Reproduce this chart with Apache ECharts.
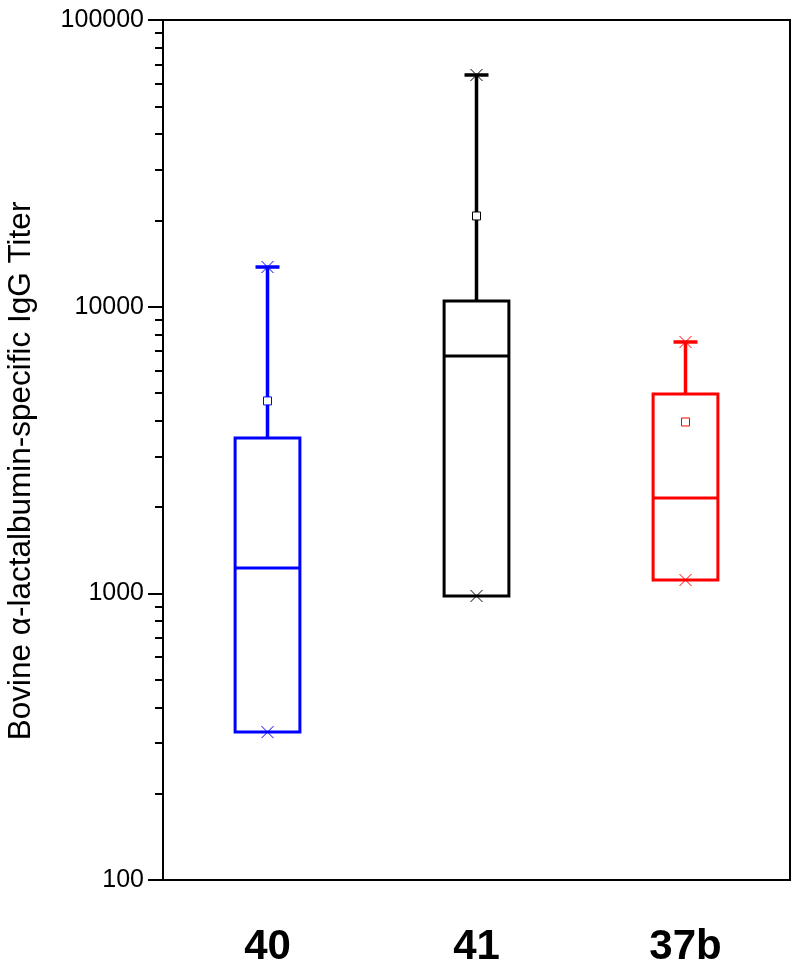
<!DOCTYPE html>
<html>
<head>
<meta charset="utf-8">
<script src="https://cdn.jsdelivr.net/npm/echarts@6/dist/echarts.min.js"></script>
<style>
  html, body { margin: 0; padding: 0; background: #fff; }
  #chart { width: 800px; height: 973px; }
</style>
</head>
<body>
<div id="chart"></div>
<script>
var groups = ['40', '41', '37b'];
var colors = ['#0000ff', '#000000', '#ff0000'];
// min, q1, median, q3, max
var boxes = [
  [328, 328, 1226, 3480, 13750],
  [979, 979, 6730, 10460, 64300],
  [1113, 1113, 2150, 4960, 7530]
];
var means = [4690, 20720, 3960];
var majorTicks = [100, 1000, 10000, 100000];
var minorTicks = [200, 300, 400, 500, 600, 700, 800, 900,
  2000, 3000, 4000, 5000, 6000, 7000, 8000, 9000,
  20000, 30000, 40000, 50000, 60000, 70000, 80000, 90000];

var seriesData = boxes.map(function(b, i) {
  return [i].concat(b).concat([means[i]]);
});

function renderBox(params, api) {
  var i = api.value(0);
  var col = colors[i];
  var xc = api.coord([i, api.value(1)])[0];
  var bw = api.size([1, 0])[0] * 0.31;
  var cw = 24;
  var y = function(k) { return api.coord([i, api.value(k)])[1]; };
  var yMin = y(1), yQ1 = y(2), yMed = y(3), yQ3 = y(4), yMax = y(5), yMean = y(6);
  var line = { stroke: col, lineWidth: 3, fill: 'none' };
  var thin = { stroke: col, lineWidth: 1, fill: 'none' };
  var children = [
    { type: 'line', shape: { x1: xc, y1: yQ3, x2: xc, y2: yMax }, style: { stroke: col, lineWidth: 3.5 } },
    { type: 'line', shape: { x1: xc, y1: yQ1, x2: xc, y2: yMin }, style: line },
    { type: 'line', shape: { x1: xc - cw / 2, y1: yMax, x2: xc + cw / 2, y2: yMax }, style: { stroke: col, lineWidth: 3.5 } },
    { type: 'rect', shape: { x: xc - bw / 2, y: yQ3, width: bw, height: yQ1 - yQ3 }, style: line },
    { type: 'line', shape: { x1: xc - bw / 2, y1: yMed, x2: xc + bw / 2, y2: yMed }, style: line },
    { type: 'rect', shape: { x: xc - 4, y: yMean - 4, width: 8, height: 8 }, style: { stroke: col, lineWidth: 1, fill: '#fff' } }
  ];
  [yMin, yMax].forEach(function(yy) {
    children.push({ type: 'line', shape: { x1: xc - 6, y1: yy - 6, x2: xc + 6, y2: yy + 6 }, style: thin });
    children.push({ type: 'line', shape: { x1: xc - 6, y1: yy + 6, x2: xc + 6, y2: yy - 6 }, style: thin });
  });
  return { type: 'group', children: children };
}

var chart = echarts.init(document.getElementById('chart'));
chart.setOption({
  backgroundColor: '#fff',
  animation: false,
  grid: { left: 163, right: 10, top: 20, bottom: 93, show: true, borderColor: '#000', borderWidth: 2 },
  graphic: [{
    type: 'text',
    x: 21,
    y: 471,
    rotation: Math.PI / 2,
    style: {
      text: 'Bovine \u03b1-lactalbumin-specific IgG Titer',
      font: '31.5px "Liberation Sans", Arial, sans-serif',
      fill: '#000',
      align: 'center',
      verticalAlign: 'middle'
    }
  }],
  xAxis: {
    type: 'category',
    data: groups,
    axisLine: { lineStyle: { color: '#000', width: 2 } },
    axisTick: { alignWithLabel: true, length: 13, lineStyle: { color: '#000', width: 2 } },
    axisLabel: { margin: 46, color: '#000', fontSize: 42, fontWeight: 'bold', fontFamily: '"Liberation Sans", Arial, sans-serif' }
  },
  yAxis: [{
    type: 'log',
    logBase: 10,
    min: 100,
    max: 100000,
    axisLine: { show: true, lineStyle: { color: '#000', width: 2 } },
    axisTick: { show: true, length: 15, lineStyle: { color: '#000', width: 2 }, customValues: majorTicks },
    axisLabel: {
      color: '#000', fontSize: 25, margin: 19,
      fontFamily: '"Liberation Sans", Arial, sans-serif',
      customValues: majorTicks,
      formatter: function(v) { return String(Math.round(v)); }
    },
    splitLine: { show: false }
  }, {
    type: 'log',
    logBase: 10,
    min: 100,
    max: 100000,
    position: 'left',
    axisLine: { show: false },
    axisTick: { show: true, length: 8, lineStyle: { color: '#000', width: 2 }, customValues: minorTicks },
    axisLabel: { show: false },
    splitLine: { show: false }
  }],
  series: [{
    type: 'custom',
    renderItem: renderBox,
    encode: { x: 0, y: [1, 2, 3, 4, 5, 6] },
    data: seriesData,
    z: 5
  }]
});
</script>
</body>
</html>
